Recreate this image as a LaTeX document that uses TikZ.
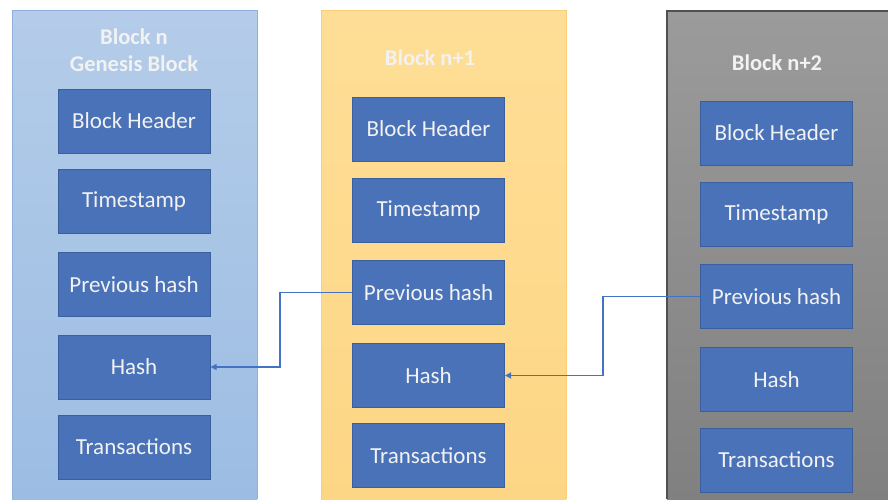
\documentclass[tikz,border=0pt]{standalone}
\usepackage{fontspec}
\setmainfont{Carlito}
\usetikzlibrary{arrows.meta}
\definecolor{boxblue}{HTML}{4A72B8}
\definecolor{boxedge}{HTML}{3A5E9E}
\definecolor{linkblue}{HTML}{4472C4}
\definecolor{txt}{HTML}{F2F2F2}
\tikzset{
  field/.style={draw=boxedge, line width=1pt, fill=boxblue, minimum width=152pt, minimum height=64pt, inner sep=0pt, text=txt, font=\fontsize{23}{27}\selectfont},
  title/.style={text=txt, font=\bfseries\fontsize{22.5}{27}\selectfont, align=center, inner sep=0pt},
  link/.style={draw=linkblue, line width=1.2pt, -{Triangle[length=6pt,width=6pt]}}
}
\begin{document}
\begin{tikzpicture}[x=1pt,y=-1pt]
\useasboundingbox (0,0) rectangle (888,499);
\fill[white] (0,0) rectangle (888,499);
% columns
\shade[top color={rgb,255:red,180;green,204;blue,233}, bottom color={rgb,255:red,156;green,189;blue,227}] (12,10) rectangle (257,499);
\draw[color={rgb,255:red,143;green,176;blue,218}, line width=1pt] (12,499) -- (12,10) -- (257,10) -- (257,499);
\shade[top color={rgb,255:red,254;green,222;blue,150}, bottom color={rgb,255:red,253;green,214;blue,133}] (321,10) rectangle (566,499);
\draw[color={rgb,255:red,250;green,205;blue,120}, line width=1pt] (321,499) -- (321,10) -- (566,10) -- (566,499);
\shade[top color={rgb,255:red,155;green,155;blue,155}, bottom color={rgb,255:red,128;green,128;blue,128}] (667,11) rectangle (888,499);
\draw[color={rgb,255:red,80;green,80;blue,80}, line width=1.2pt] (667,499) -- (667,11) -- (888,11);
% titles
\node[title] (t1) at (134,50) {Block n\\Genesis Block};
\node[title] (t2) at (430,58) {Block n+1};
\node[title] (t3) at (777,63) {Block n+2};
% column 1
\node[field] (h1) at (134,121) {Block Header};
\node[field] (s1) at (134,201) {Timestamp};
\node[field] (p1) at (134,284.5) {Previous hash};
\node[field] (x1) at (134,367) {Hash};
\node[field] (r1) at (134,447) {Transactions};
% column 2
\node[field] (h2) at (428.5,129) {Block Header};
\node[field] (s2) at (428.5,210) {Timestamp};
\node[field] (p2) at (428.5,292.5) {Previous hash};
\node[field] (x2) at (428.5,375.5) {Hash};
\node[field] (r2) at (428.5,455.5) {Transactions};
% column 3
\node[field] (h3) at (776.5,133) {Block Header};
\node[field] (s3) at (776.5,214) {Timestamp};
\node[field] (p3) at (776.5,296.5) {Previous hash};
\node[field] (x3) at (776.5,379.5) {Hash};
\node[field] (r3) at (776.5,460) {Transactions};
% links
\draw[link] (p2.west) -- (280,292.5) |- (x1.east);
\draw[link] (p3.west) -- (603,296.5) |- (x2.east);
\end{tikzpicture}
\end{document}
